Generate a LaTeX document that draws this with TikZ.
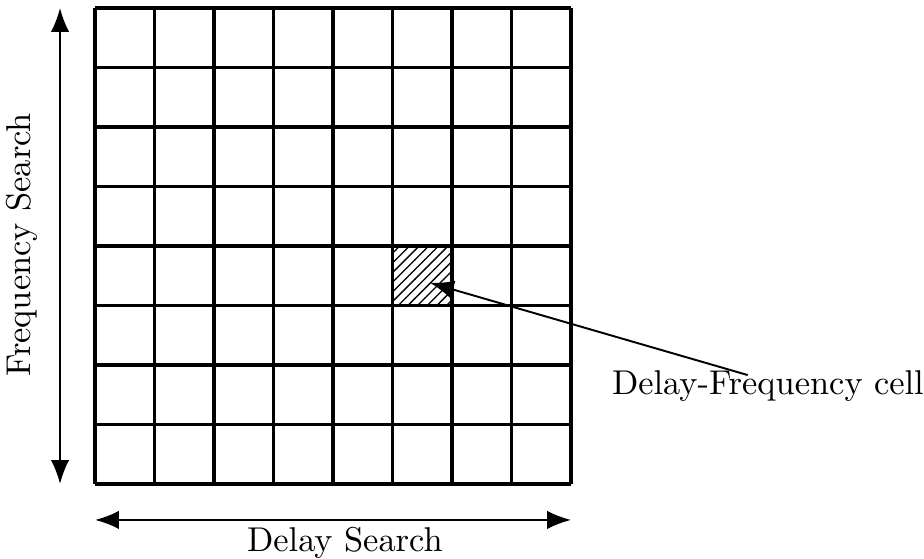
\documentclass[tikz,border=0pt]{standalone}
\usetikzlibrary{patterns,arrows.meta}

\begin{document}
\begin{tikzpicture}[x=0.65cm,y=0.65cm,font=\fontsize{10.7}{13}\selectfont]
  \useasboundingbox (-1.597,-1.261) rectangle (13.933,8.134);

  % ============================================================
  %                       PARAMETERS
  % ============================================================
  \def\Ncells{8}
  \def\cellX{5}
  \def\cellY{3}
  \tikzset{
    gridline/.style={line width=1pt},
    searcharrow/.style={semithick,{Latex[length=2.6mm,width=2mm]}-{Latex[length=2.6mm,width=2mm]}},
    pointer/.style={semithick,-{Latex[length=2.6mm,width=2mm]}}
  }

  % ============================================================
  %                       HATCHED CELL
  % ============================================================
  \fill[pattern=north east lines] (\cellX,\cellY) rectangle ++(1,1);
  \coordinate (cell) at (5.63,3.38);

  % ============================================================
  %                       GRID
  % ============================================================
  \foreach \i in {0,...,\Ncells} {
    \draw[gridline] (\i,0) -- (\i,\Ncells);
    \draw[gridline] (0,\i) -- (\Ncells,\i);
  }

  % ============================================================
  %                       AXES
  % ============================================================
  \coordinate (fbot) at (-0.588,0);
  \coordinate (ftop) at (-0.588,8);
  \draw[searcharrow] (fbot) -- (ftop);
  \node[rotate=90] (freq) at (-1.23,4.02) {Frequency Search};

  \coordinate (dleft) at (0,-0.605);
  \coordinate (dright) at (8,-0.605);
  \draw[searcharrow] (dleft) -- (dright);
  \node (delay) at (4.2,-0.99) {Delay Search};

  % ============================================================
  %                       LABEL
  % ============================================================
  \node (lbl) at (11.31,1.64) {Delay-Frequency cell};
  \coordinate (lstart) at (10.97,1.83);
  \draw[pointer] (lstart) -- (cell);

\end{tikzpicture}
\end{document}
